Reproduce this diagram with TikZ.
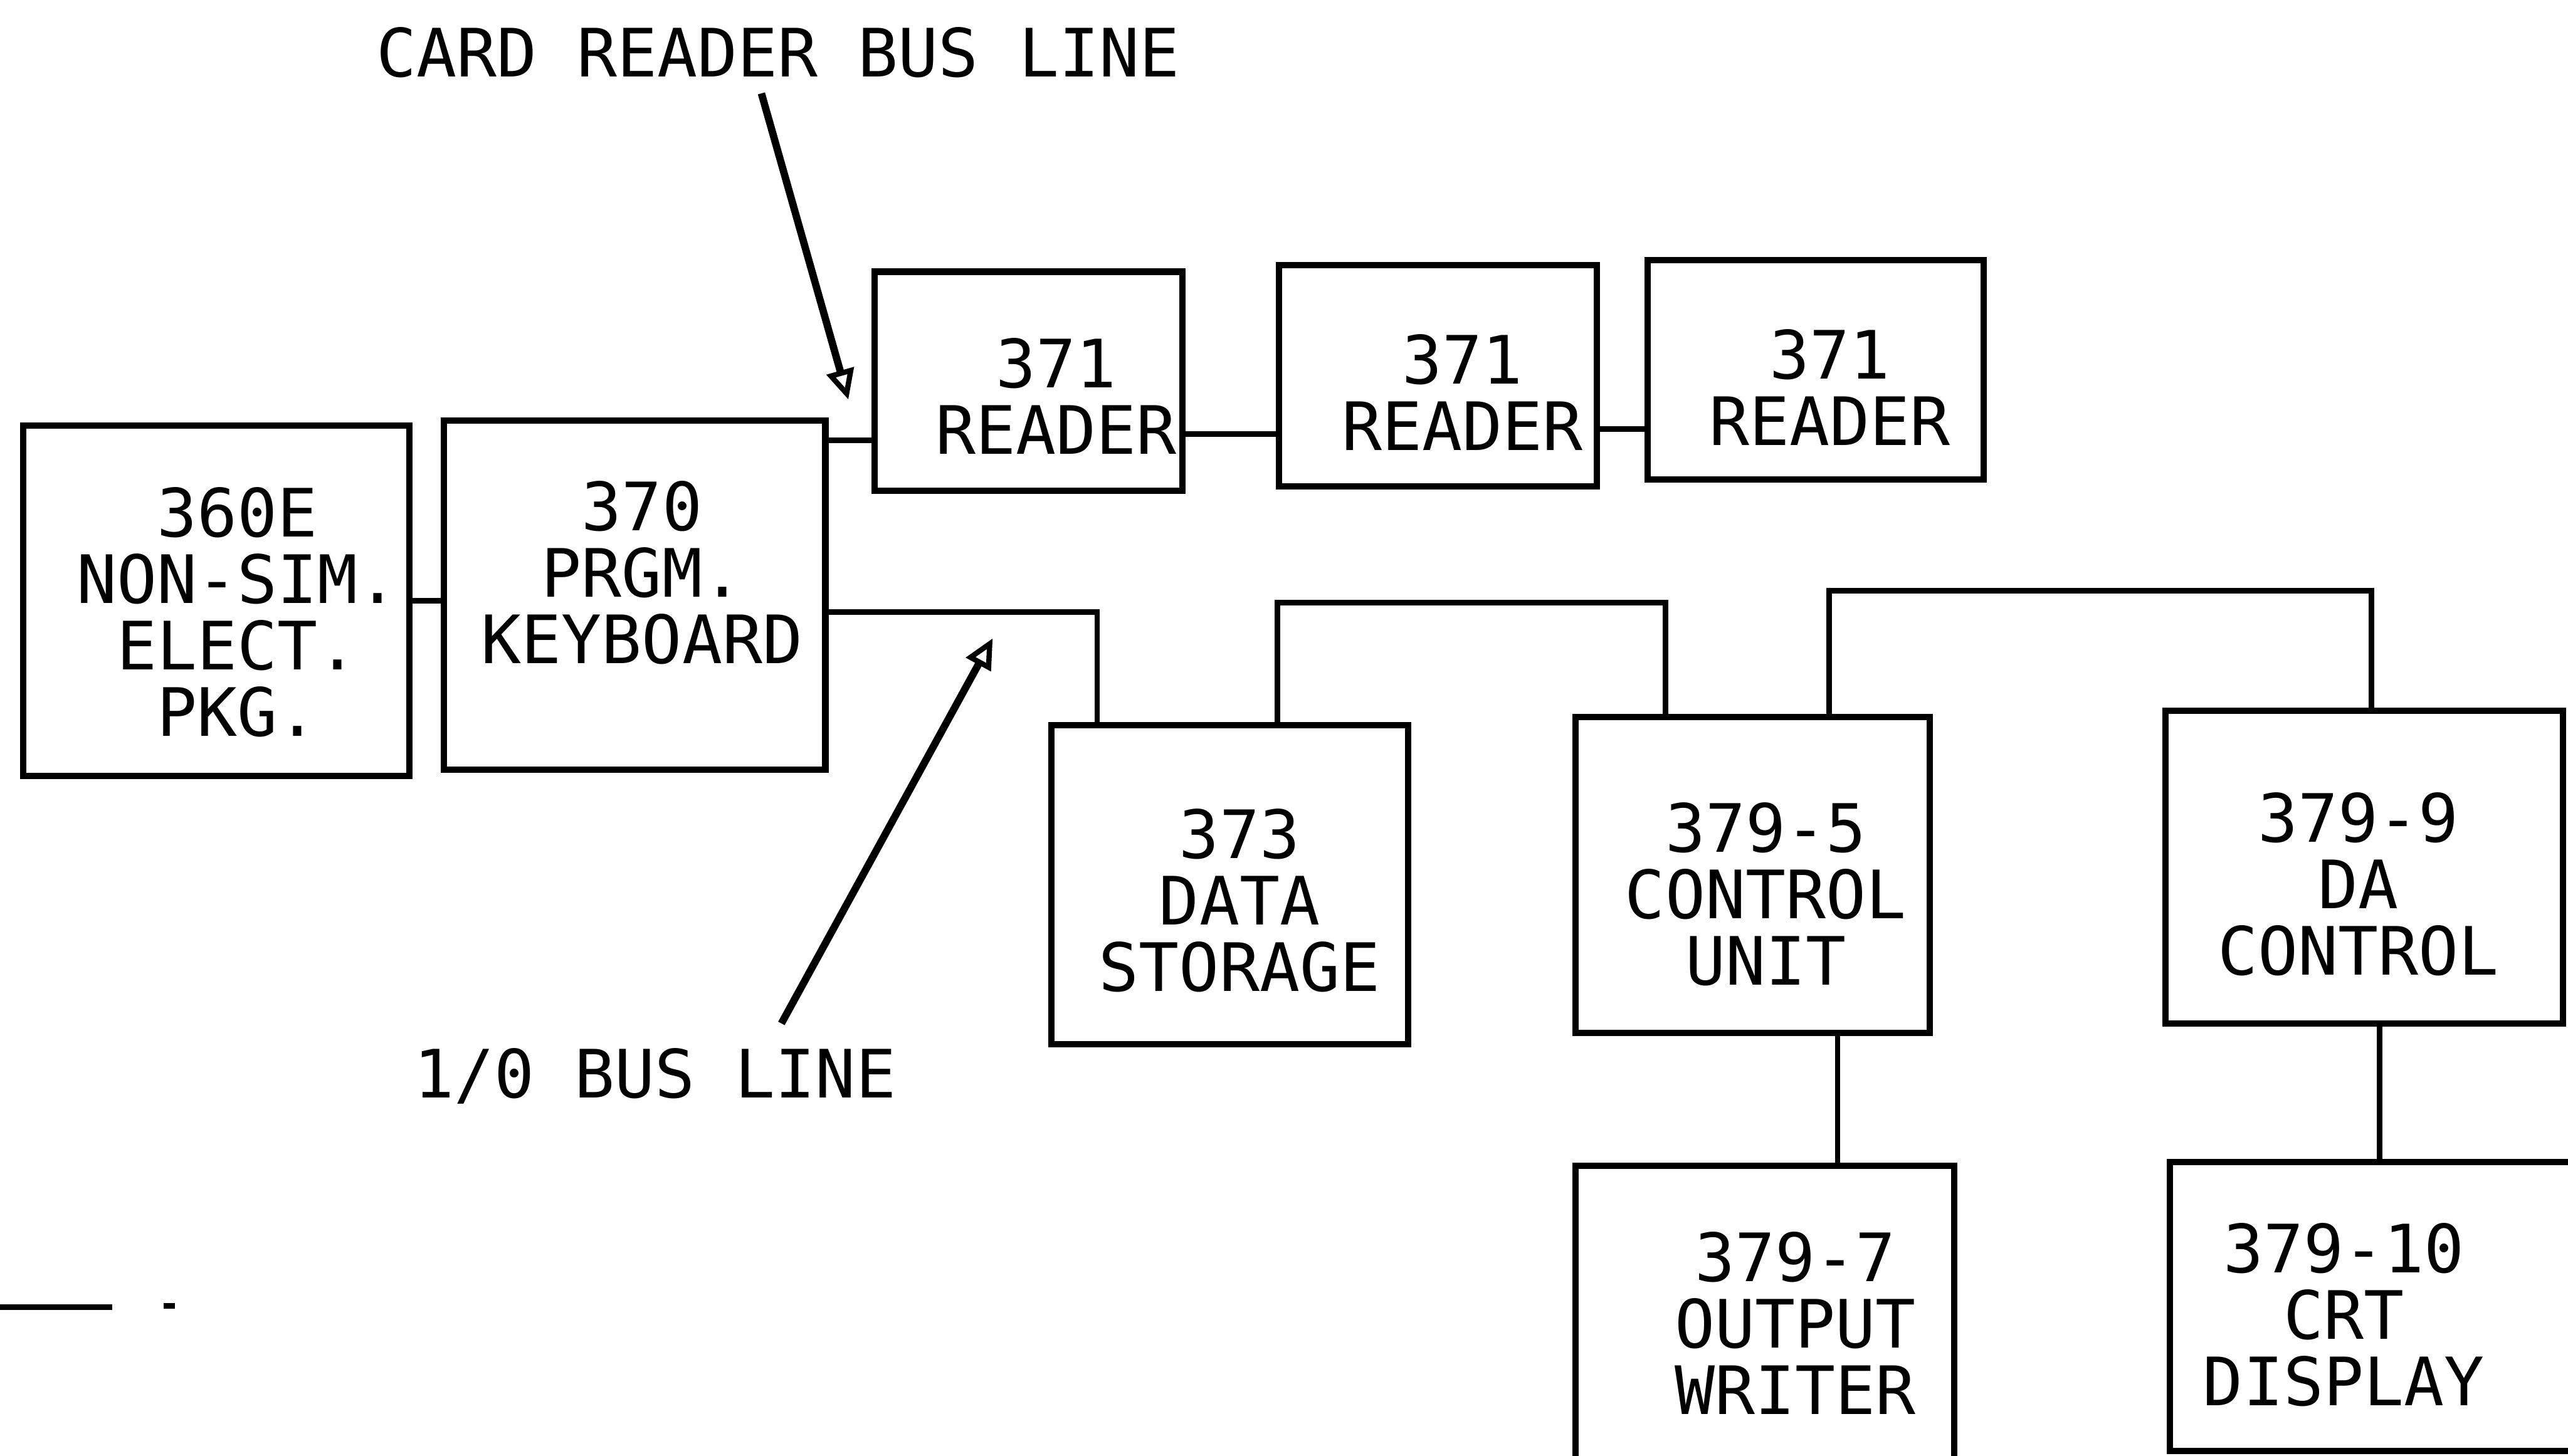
\documentclass[tikz,border=0pt]{standalone}
\usepackage{fontspec}
\newfontfamily\typew{DejaVu Sans Mono}
\usetikzlibrary{arrows.meta}
\begin{document}
\begin{tikzpicture}[
  boxnode/.style={draw=black, line width=3.6pt, rectangle, inner sep=0pt},
  txt/.style={align=center, inner sep=0pt, font=\typew\fontsize{38}{37.8}\selectfont},
  wire/.style={draw=black, line width=3.2pt},
  pointer/.style={draw=black, line width=4.2pt, -{Triangle[open, length=0.6cm, width=0.55cm, line width=3pt]}}
]
\useasboundingbox (0,0) rectangle (51.4,29.15);
\fill[white] (0,0) rectangle (51.4,29.15);

% boxes
\node[boxnode, minimum width=7.74cm, minimum height=7.02cm] (e360) at (4.33,17.12) {};
\node[boxnode, minimum width=7.64cm, minimum height=6.99cm] (kb) at (12.70,17.235) {};
\node[boxnode, minimum width=6.17cm, minimum height=4.39cm] (r1) at (20.585,21.515) {};
\node[boxnode, minimum width=6.36cm, minimum height=4.43cm] (r2) at (28.78,21.625) {};
\node[boxnode, minimum width=6.72cm, minimum height=4.39cm] (r3) at (36.34,21.745) {};
\node[boxnode, minimum width=7.15cm, minimum height=6.39cm] (ds) at (24.615,11.435) {};
\node[boxnode, minimum width=7.09cm, minimum height=6.32cm] (cu) at (35.075,11.63) {};
\node[boxnode, minimum width=7.96cm, minimum height=6.26cm] (da) at (47.32,11.79) {};
\node[boxnode, minimum width=7.58cm, minimum height=6.56cm] (ow) at (35.32,2.53) {};
\node[boxnode, minimum width=8.17cm, minimum height=5.78cm] (crt) at (47.515,2.99) {};

% box texts
\node[txt] (t360) at (4.75,16.89) {360E\\NON-SIM.\\ELECT.\\PKG.};
\node[txt] (tkb) at (12.85,17.68) {370\\PRGM.\\KEYBOARD};
\node[txt] (tr1) at (21.14,21.22) {371\\READER};
\node[txt] (tr2) at (29.27,21.29) {371\\READER};
\node[txt] (tr3) at (36.62,21.39) {371\\READER};
\node[txt] (tds) at (24.81,11.12) {373\\DATA\\STORAGE};
\node[txt] (tcu) at (35.34,11.25) {379-5\\CONTROL\\UNIT};
\node[txt] (tda) at (47.20,11.45) {379-9\\DA\\CONTROL};
\node[txt] (tow) at (35.93,2.66) {379-7\\OUTPUT\\WRITER};
\node[txt] (tcrt) at (46.91,2.83) {379-10\\CRT\\DISPLAY};

% labels
\node[txt] (lcard) at (15.57,28.10) {CARD READER BUS LINE};
\node[txt] (lio) at (13.11,7.61) {1/0 BUS LINE};

% connectors
\draw[wire] (e360.east |- 0,17.12) -- (kb.west |- 0,17.12);
\draw[wire] (kb.east |- 0,20.34) -- (r1.west |- 0,20.34);
\draw[wire] (r1.east |- 0,20.46) -- (r2.west |- 0,20.46);
\draw[wire] (r2.east |- 0,20.56) -- (r3.west |- 0,20.56);
\draw[wire] (kb.east |- 0,16.89) -| (ds.north -| 21.96,0);
\draw[wire] (ds.north -| 25.57,0) -- (25.57,17.09) -- (33.34,17.09) -- (cu.north -| 33.34,0);
\draw[wire] (cu.north -| 36.61,0) -- (36.61,17.32) -- (47.47,17.32) -- (da.north -| 47.47,0);
\draw[wire] (cu.south -| 36.78,0) -- (ow.north -| 36.78,0);
\draw[wire] (da.south -| 47.63,0) -- (crt.north -| 47.63,0);

% pointer arrows
\coordinate (cardtail) at (15.24,27.28);
\coordinate (cardtip) at (16.98,21.15);
\coordinate (iotail) at (15.64,8.66);
\coordinate (iotip) at (19.87,16.37);
\draw[pointer] (cardtail) -- (cardtip);
\draw[pointer] (iotail) -- (iotip);

% stray line at lower left
\coordinate (sa) at (0,2.98);
\coordinate (sb) at (2.25,2.98);
\coordinate (sc) at (3.27,3.01);
\coordinate (sd) at (3.50,3.01);
\draw[wire] (sa) -- (sb);
\draw[wire] (sc) -- (sd);
\end{tikzpicture}
\end{document}
